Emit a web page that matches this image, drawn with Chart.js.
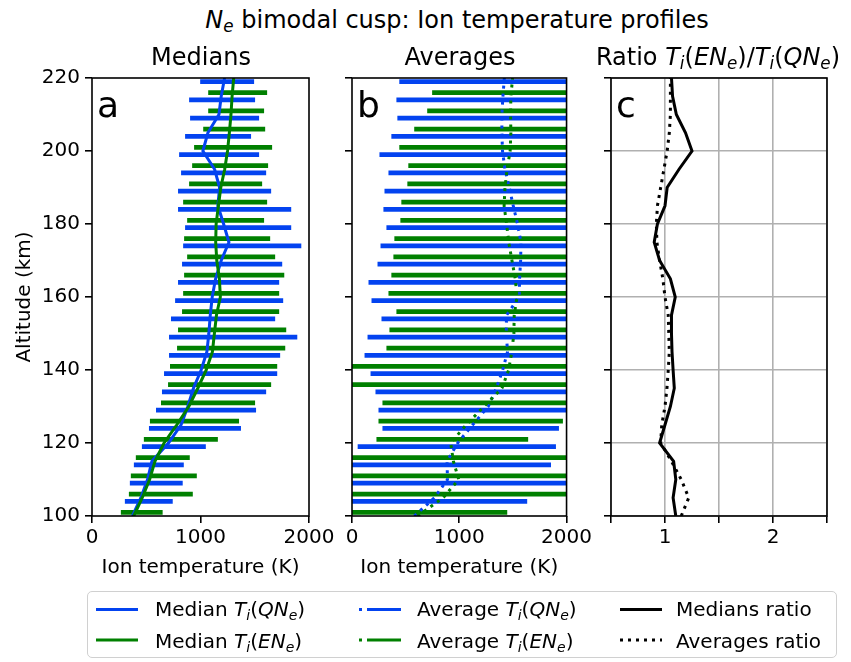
<!DOCTYPE html>
<html>
<head>
<meta charset="utf-8">
<script src="https://cdn.jsdelivr.net/npm/chart.js@4.4.0/dist/chart.umd.min.js"></script>
<style>
body { margin: 0; background: #fff; font-family: 'DejaVu Sans', sans-serif; }
#fig { position: relative; width: 851px; height: 662px; overflow: hidden; background: #fff; }
canvas { position: absolute; }
.txt { position: absolute; color: #000; white-space: nowrap; line-height: 1; z-index: 2; }
.m { font-style: italic; }
.s { font-size: 0.7em; position: relative; top: 0.25em; font-style: italic; }
.title { font-size: 24px; transform: translateX(-50%); }
.letter { font-size: 36px; }
.leg { font-size: 20px; }
#legbox { position: absolute; left: 87px; top: 591px; width: 748px; height: 65px; border: 1.5px solid #d0d0d0; border-radius: 5px; z-index: 1; }
</style>
</head>
<body>
<div id="fig">
  <div class="txt title" style="left:457px;top:8px"><span class="m">N</span><span class="s">e</span> bimodal cusp: Ion temperature profiles</div>
  <div class="txt title" style="left:201px;top:45px">Medians</div>
  <div class="txt title" style="left:460px;top:45px">Averages</div>
  <div class="txt title" style="left:718px;top:45px">Ratio <span class="m">T</span><span class="s">i</span>(<span class="m">EN</span><span class="s">e</span>)/<span class="m">T</span><span class="s">i</span>(<span class="m">QN</span><span class="s">e</span>)</div>

  <canvas id="panelA" width="340" height="520" style="left:0;top:60px"></canvas>
  <canvas id="panelB" width="255" height="520" style="left:340px;top:60px"></canvas>
  <canvas id="panelC" width="256" height="520" style="left:595px;top:60px"></canvas>

  <div class="txt letter" style="left:97px;top:87px">a</div>
  <div class="txt letter" style="left:357px;top:87px">b</div>
  <div class="txt letter" style="left:616px;top:87px">c</div>

  <div id="legbox"></div>
  <svg width="851" height="662" style="position:absolute;left:0;top:0;z-index:2">
    <line x1="96" y1="609.5" x2="138" y2="609.5" stroke="#0343f0" stroke-width="3"/>
    <line x1="96" y1="640" x2="138" y2="640" stroke="#008000" stroke-width="3"/>
    <line x1="359" y1="609.5" x2="401" y2="609.5" stroke="#0343f0" stroke-width="3" stroke-dasharray="3 5 34 5"/>
    <line x1="359" y1="640" x2="401" y2="640" stroke="#008000" stroke-width="3" stroke-dasharray="3 5 34 5"/>
    <line x1="620" y1="609.5" x2="662" y2="609.5" stroke="#000" stroke-width="3"/>
    <line x1="620" y1="640" x2="662" y2="640" stroke="#000" stroke-width="3" stroke-dasharray="3 5"/>
  </svg>
  <div class="txt leg" style="left:155px;top:599px">Median <span class="m">T</span><span class="s">i</span>(<span class="m">QN</span><span class="s">e</span>)</div>
  <div class="txt leg" style="left:155px;top:631px">Median <span class="m">T</span><span class="s">i</span>(<span class="m">EN</span><span class="s">e</span>)</div>
  <div class="txt leg" style="left:417px;top:599px">Average <span class="m">T</span><span class="s">i</span>(<span class="m">QN</span><span class="s">e</span>)</div>
  <div class="txt leg" style="left:417px;top:631px">Average <span class="m">T</span><span class="s">i</span>(<span class="m">EN</span><span class="s">e</span>)</div>
  <div class="txt leg" style="left:676px;top:599px">Medians ratio</div>
  <div class="txt leg" style="left:676px;top:631px">Averages ratio</div>
</div>

<script>
// altitude grid of the profile lines (km), bottom to top
var altitude = [100, 105, 110, 115, 120, 125, 130, 135, 140, 145, 150, 155, 160,
    165, 170, 175, 180, 185, 190, 195, 200, 205, 210, 215, 220];
// altitudes of the spread bars (offset so blue and green do not overlap)
var altQ = [104, 109, 114, 119, 124, 129, 134, 139, 144, 149, 154, 159,
    164, 169, 174, 179, 184, 189, 194, 199, 204, 209, 214, 219];
var altE = [101, 106, 111, 116, 121, 126, 131, 136, 141, 146, 151, 156,
    161, 166, 171, 176, 181, 186, 191, 196, 201, 206, 211, 216];

// medians (K)
var medianQ = [373, 451, 512, 552, 705, 821, 883, 935, 1006, 1059, 1077, 1090, 1108,
    1139, 1191, 1262, 1213, 1160, 1176, 1130, 1022, 1068, 1170, 1191, 1222];
var medianE = [385, 463, 531, 580, 664, 782, 892, 975, 1053, 1110, 1128, 1147, 1183,
    1174, 1150, 1140, 1144, 1165, 1187, 1223, 1249, 1266, 1281, 1291, 1306];
var medianQLow = [306, 352, 389, 463, 528, 593, 648, 667, 713, 713, 731, 769,
    796, 833, 843, 861, 796, 796, 824, 806, 861, 907, 898, 1000];
var medianQHigh = [741, 833, 843, 1046, 1370, 1509, 1602, 1704, 1731, 1889, 1685, 1759,
    1722, 1750, 1926, 1833, 1833, 1648, 1602, 1537, 1463, 1537, 1500, 1491];
var medianELow = [269, 343, 361, 407, 481, 537, 639, 704, 722, 787, 796, 833,
    843, 852, 880, 852, 880, 843, 898, 926, 944, 1028, 1074, 1074];
var medianEHigh = [648, 926, 963, 898, 1157, 1352, 1500, 1648, 1704, 1778, 1787, 1722,
    1722, 1769, 1685, 1639, 1583, 1611, 1565, 1620, 1657, 1593, 1583, 1611];

// averages (K)
var averageQ = [580, 769, 890, 886, 985, 1125, 1270, 1345, 1405, 1450, 1438, 1440, 1559,
    1562, 1572, 1575, 1543, 1503, 1466, 1426, 1403, 1397, 1397, 1407, 1420];
var averageE = [610, 850, 995, 945, 920, 1065, 1230, 1398, 1460, 1490, 1509, 1512, 1538,
    1522, 1491, 1461, 1441, 1418, 1426, 1446, 1474, 1481, 1478, 1481, 1497];
var averageQLow = [-100, -150, -50, 56, 287, 250, 222, 176, 120, 148, 278, 185,
    157, 241, 269, 324, 296, 306, 343, 259, 370, 426, 417, 444];
var averageQHigh = [1630, 2250, 1852, 1898, 1926, 2350, 2400, 2450, 2500, 2550, 2450, 2500,
    2480, 2520, 2500, 2560, 2480, 2450, 2420, 2400, 2380, 2360, 2340, 2300];
var averageELow = [-60, -120, -90, -70, 231, 250, 287, -30, -40, 324, 352, 417,
    343, 370, 389, 398, 454, 463, 519, 528, 444, 583, 704, 750];
var averageEHigh = [1444, 2300, 2350, 2280, 1639, 1963, 2400, 2500, 2550, 2450, 2420, 2400,
    2430, 2450, 2400, 2380, 2350, 2360, 2340, 2320, 2330, 2300, 2280, 2260];

// ratio EN_e / QN_e
var ratioMedians = [1.10, 1.075, 1.10, 1.08, 0.95, 1.00, 1.05, 1.086, 1.075, 1.065, 1.06, 1.06, 1.095,
    1.05, 0.95, 0.90, 0.93, 1.00, 1.02, 1.13, 1.25, 1.19, 1.105, 1.07, 1.06];
var ratioAverages = [1.15, 1.22, 1.15, 1.06, 0.96, 0.97, 1.00, 1.018, 1.03, 1.04, 1.035, 1.03, 1.00,
    0.98, 0.95, 0.925, 0.92, 0.93, 0.96, 0.99, 1.02, 1.04, 1.05, 1.05, 1.05];

// axis ticks
var altTicks = [100, 120, 140, 160, 180, 200, 220];
var tempTicks = [0, 1000, 2000];
var ratioTicks = [0.5, 1, 1.5, 2, 2.5];
var ratioLabels = ['', '1', '', '2', ''];

var BLUE = '#0343f0';
var GREEN = '#008000';

Chart.defaults.font.family = "'DejaVu Sans', sans-serif";
Chart.defaults.font.size = 20;
Chart.defaults.color = '#000';
Chart.defaults.animation = false;

function line(vals) {
    return altitude.map(function (a, i) { return {x: vals[i], y: a}; });
}
function bars(lo, hi, alts) {
    return alts.map(function (a, i) { return {x: [lo[i], hi[i]], y: a}; });
}

// black box round the plot area, like matplotlib spines
var frame = {
    id: 'frame',
    afterDatasetsDraw: function (chart) {
        var a = chart.chartArea, ctx = chart.ctx;
        ctx.save();
        ctx.strokeStyle = '#000';
        ctx.lineWidth = 1.6;
        ctx.strokeRect(a.left, a.top, a.right - a.left, a.bottom - a.top);
        ctx.restore();
    }
};

function makeChart(id, datasets, o) {
    return new Chart(document.getElementById(id), {
        type: 'bar',
        data: {datasets: datasets},
        options: {
            responsive: false,
            indexAxis: 'y',
            layout: {padding: {top: 18, right: o.padRight, left: 0, bottom: 0}},
            plugins: {legend: {display: false}, tooltip: {enabled: false}},
            scales: {
                x: {
                    type: 'linear', min: o.xMin, max: o.xMax, offset: false,
                    afterBuildTicks: function (s) { s.ticks = o.xTicks.map(function (v) { return {value: v}; }); },
                    ticks: {padding: 3, autoSkip: false, maxRotation: 0,
                        callback: function (v, i) { return o.xLabels ? o.xLabels[i] : String(v); }},
                    grid: {offset: false, drawOnChartArea: !!o.grid, color: '#b0b0b0', lineWidth: 1.6,
                        tickLength: 7, tickColor: '#000', tickWidth: 1.6},
                    border: {display: false},
                    title: {display: !!o.xTitle, text: o.xTitle || '', padding: 0, font: {size: 20}},
                    afterFit: function (s) { s.height = 64; }
                },
                y: {
                    type: 'linear', min: 100, max: 220, offset: false,
                    afterBuildTicks: function (s) { s.ticks = altTicks.map(function (v) { return {value: v}; }); },
                    ticks: {display: !!o.yTitle, padding: 5, autoSkip: false,
                        callback: function (v) { return String(v); }},
                    grid: {offset: false, drawOnChartArea: !!o.grid, color: '#b0b0b0', lineWidth: 1.6,
                        tickLength: 7, tickColor: '#000', tickWidth: 1.6},
                    border: {display: false},
                    title: {display: !!o.yTitle, text: o.yTitle || '', padding: {top: 13, bottom: 0}, font: {size: 20}},
                    afterFit: function (s) { s.width = o.yWidth; }
                }
            }
        },
        plugins: [frame]
    });
}

function lineSet(vals, color, dash, order) {
    return {type: 'line', data: line(vals), borderColor: color, borderWidth: 3,
        borderDash: dash, borderCapStyle: 'butt', pointRadius: 0, fill: false, order: order};
}
function barSet(lo, hi, alts, color, order) {
    return {type: 'bar', data: bars(lo, hi, alts), backgroundColor: color, borderWidth: 0,
        barThickness: 4, grouped: false, order: order};
}

makeChart('panelA', [
    lineSet(medianE, GREEN, [], 0),
    lineSet(medianQ, BLUE, [], 1),
    barSet(medianELow, medianEHigh, altE, GREEN, 2),
    barSet(medianQLow, medianQHigh, altQ, BLUE, 3)
], {padRight: 31, yWidth: 92, xMin: 0, xMax: 2000, xTicks: tempTicks,
    xTitle: 'Ion temperature (K)', yTitle: 'Altitude (km)'});

makeChart('panelB', [
    lineSet(averageE, GREEN, [3, 5], 0),
    lineSet(averageQ, BLUE, [3, 5], 1),
    barSet(averageELow, averageEHigh, altE, GREEN, 2),
    barSet(averageQLow, averageQHigh, altQ, BLUE, 3)
], {padRight: 27, yWidth: 12, xMin: 0, xMax: 2000, xTicks: tempTicks,
    xTitle: 'Ion temperature (K)'});

makeChart('panelC', [
    lineSet(ratioMedians, '#000', [], 0),
    lineSet(ratioAverages, '#000', [3, 5], 1)
], {padRight: 24, yWidth: 16, xMin: 0.5, xMax: 2.5, xTicks: ratioTicks,
    xLabels: ratioLabels, grid: true});
</script>
</body>
</html>
